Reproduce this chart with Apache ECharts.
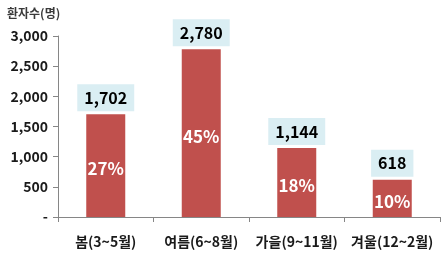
<!DOCTYPE html>
<html><head><meta charset="utf-8">
<script src="https://cdn.jsdelivr.net/npm/echarts@6/dist/echarts.min.js"></script>
<style>html,body{margin:0;padding:0;background:#fff}#c{width:448px;height:256px}</style>
</head><body><div id="c"></div>
<script>
const categories = ['봄(3~5월)', '여름(6~8월)', '가을(9~11월)', '겨울(12~2월)'];
const patients = [1702, 2780, 1144, 618];
const shares = [27, 45, 18, 10];
const yTitle = '환자수(명)';

const FONT = '"Noto Sans CJK KR", "Noto Sans", sans-serif';
const chart = echarts.init(document.getElementById('c'), null, {renderer: 'canvas'});
chart.setOption({
  animation: false,
  textStyle: {fontFamily: FONT},
  title: {
    text: yTitle, left: 2, top: 2,
    textStyle: {fontFamily: FONT, fontSize: 12, fontWeight: 'bold', color: '#3a3a3a'}
  },
  grid: {left: 58, right: 8, top: 36, bottom: 39},
  xAxis: {
    type: 'category', data: categories,
    axisLine: {lineStyle: {color: '#868686', width: 1}},
    axisTick: {show: true, length: 5, lineStyle: {color: '#868686'}},
    axisLabel: {interval: 0, hideOverlap: false, margin: 18, fontFamily: FONT, fontSize: 14, fontWeight: 'bold', color: '#1a1a1a'}
  },
  yAxis: {
    type: 'value', min: 0, max: 3000, interval: 500,
    splitLine: {show: false},
    axisLine: {show: true, lineStyle: {color: '#868686', width: 1}},
    axisTick: {show: true, length: 5, lineStyle: {color: '#868686'}},
    axisLabel: {
      margin: 10, fontFamily: FONT, fontSize: 14, fontWeight: 'bold', color: '#1a1a1a',
      formatter: v => v === 0 ? '-' : v.toLocaleString('en-US')
    }
  },
  series: [
    {
      type: 'bar', data: patients, barWidth: 39,
      itemStyle: {color: '#C0504D'},
      label: {
        show: true, position: 'inside', offset: [0, 3],
        formatter: p => shares[p.dataIndex] + '%',
        fontFamily: FONT, fontSize: 17, fontWeight: 'bold', color: '#ffffff'
      },
      silent: true
    },
    {
      type: 'bar', data: patients, barWidth: 39, barGap: '-100%',
      itemStyle: {color: 'rgba(0,0,0,0)'},
      label: {
        show: true, position: 'top', distance: 3,
        formatter: p => p.value.toLocaleString('en-US'),
        fontFamily: FONT, fontSize: 16, fontWeight: 'bold', color: '#000',
        backgroundColor: '#DAEEF3', padding: [4, 7, 4, 7], lineHeight: 19
      },
      silent: true
    }
  ]
});
</script></body></html>
